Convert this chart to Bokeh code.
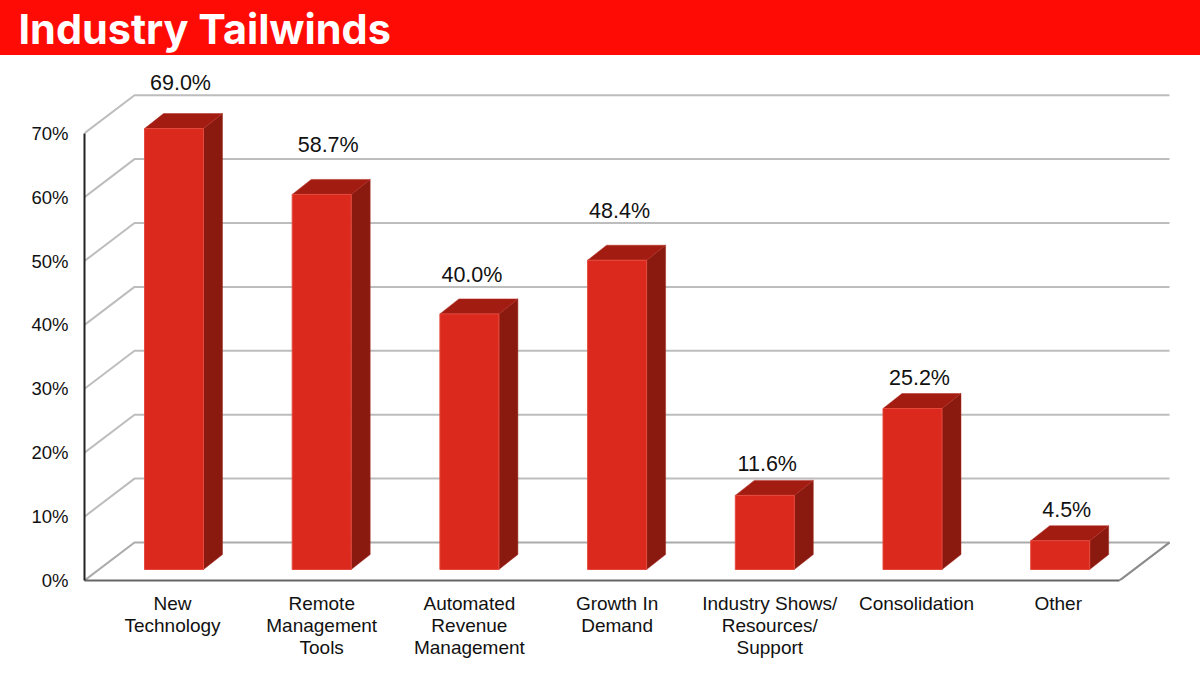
from bokeh.plotting import figure
from bokeh.layouts import column
from bokeh.embed import file_html
from bokeh.resources import INLINE
from bokeh.models import Range1d, LinearAxis, FixedTicker, ColumnDataSource, Label
from bokeh.core.properties import value

title_text = "Industry Tailwinds"
categories = ["New\nTechnology", "Remote\nManagement\nTools", "Automated\nRevenue\nManagement",
              "Growth In\nDemand", "Industry Shows/\nResources/\nSupport", "Consolidation", "Other"]
values = [69.0, 58.7, 40.0, 48.4, 11.6, 25.2, 4.5]
y_ticks = [0, 10, 20, 30, 40, 50, 60, 70]

# layout constants (px)
W, H_HEAD, H_MAIN = 1200, 55, 629
FRONT_Y = 580
LEFT = 84
PX_X = 147.7
X0 = 173.5
PX_Y = 6.39
RED = "#FF0B05"
to_dx = lambda px: px / PX_X
to_dy = lambda px: px / PX_Y

label_off_x = [6.5, 6.5, 2.5, 2.5, 2.5, 7, 6.5]
label_off_y = [31, 34, 24, 34, 16, 15, 16]
tick_off_px = [-1.5, 0, 0, 0, 5, 4, -2]

head = figure(width=W, height=H_HEAD, x_range=(0, 1), y_range=(0, 1), toolbar_location=None,
              output_backend="svg", min_border=0, outline_line_color=RED,
              background_fill_color=RED, border_fill_color=RED,
              styles={"background-color": RED})
head.axis.visible = False
head.grid.visible = False
head.add_layout(Label(x=18, y=27, x_units="screen", y_units="screen", text=title_text,
                      text_color="white", text_font="Inter", text_font_style="bold",
                      text_font_size="41.4px", text_baseline="middle"))

x_range = Range1d((LEFT - X0) / PX_X, (W - X0) / PX_X)
y_range = Range1d(0, (FRONT_Y - H_HEAD) / PX_Y)
p = figure(width=W, height=H_MAIN, x_range=x_range, y_range=y_range, toolbar_location=None,
           output_backend="svg", min_border_left=LEFT, min_border_right=0, min_border_top=0,
           min_border_bottom=684 - FRONT_Y, outline_line_color=None, x_axis_location=None,
           y_axis_location=None, background_fill_color="white", border_fill_color="white")
p.grid.visible = False

n = len(values)
FLOOR_DX, FLOOR_DY = to_dx(50), to_dy(38)
x_left, x_right = x_range.start, (1119 - X0) / PX_X

# walls and floor
for t in y_ticks[1:]:
    p.line([x_left, x_left + FLOOR_DX, x_right + FLOOR_DX], [t, t + FLOOR_DY, t + FLOOR_DY],
           line_color="#BDBDBD", line_width=2)
p.line([x_left, x_left + FLOOR_DX, x_right + FLOOR_DX, x_right],
       [0, FLOOR_DY, FLOOR_DY, 0], line_color="#ABABAB", line_width=2)
p.line([x_right + FLOOR_DX, x_right], [FLOOR_DY, 0], line_color="#8C8C8C", line_width=2)

# bars
HALF = to_dx(29.5)
BASE = to_dy(11)
D_X, D_Y = to_dx(19), to_dy(15)
xs = list(range(n))
front_xs, front_ys, side_xs, side_ys, top_xs, top_ys = [], [], [], [], [], []
for i, v in zip(xs, values):
    l, r, b, t = i - HALF, i + HALF, BASE, BASE + v
    front_xs.append([l, r, r, l]); front_ys.append([b, b, t, t])
    side_xs.append([r, r + D_X, r + D_X, r]); side_ys.append([b, b + D_Y, t + D_Y, t])
    top_xs.append([l, r, r + D_X, l + D_X]); top_ys.append([t, t, t + D_Y, t + D_Y])
p.patches(side_xs, side_ys, fill_color="#8A1A10", line_color="#A52A20", line_width=0.5)
p.patches(top_xs, top_ys, fill_color="#A21C12", line_color="#B02A20", line_width=0.5)
p.patches(front_xs, front_ys, fill_color="#DB291D", line_color="#E5493D", line_width=1)

# value labels
src = ColumnDataSource(dict(
    x=xs, y=[BASE + D_Y + v for v in values], text=[f"{v:.1f}%" for v in values],
    xo=label_off_x, yo=[-d for d in label_off_y]))
p.text(x="x", y="y", text="text", x_offset="xo", y_offset="yo", source=src, text_align="center",
       text_baseline="alphabetic", text_color="#111111", text_font=value("Liberation Sans"),
       text_font_size="21.5px")

# axes
yaxis = LinearAxis(ticker=FixedTicker(ticks=y_ticks), bounds=(0, 70),
                   major_label_overrides={t: f"{t}%" for t in y_ticks})
yaxis.axis_line_color = "#222222"
yaxis.axis_line_width = 2
yaxis.major_tick_line_color = None
yaxis.minor_tick_line_color = None
yaxis.major_label_standoff = 10
yaxis.major_label_text_font = "Liberation Sans"
yaxis.major_label_text_font_size = "18.5px"
yaxis.major_label_text_color = "#111111"
p.add_layout(yaxis, "left")

tick_pos = [i + to_dx(o) for i, o in zip(xs, tick_off_px)]
xaxis = LinearAxis(ticker=FixedTicker(ticks=tick_pos), bounds=(x_left, x_right),
                   major_label_overrides={t: c for t, c in zip(tick_pos, categories)})
xaxis.axis_line_color = "#666666"
xaxis.axis_line_width = 2
xaxis.major_tick_line_color = None
xaxis.minor_tick_line_color = None
xaxis.major_label_standoff = 6
xaxis.major_label_text_font = "Liberation Sans"
xaxis.major_label_text_font_size = "19px"
xaxis.major_label_text_line_height = 1.05
xaxis.major_label_text_color = "#111111"
xaxis.major_label_orientation = "horizontal"
p.add_layout(xaxis, "below")

layout = column(head, column(p, spacing=0), spacing=0)
open("out.html", "w").write(file_html(layout, INLINE))
